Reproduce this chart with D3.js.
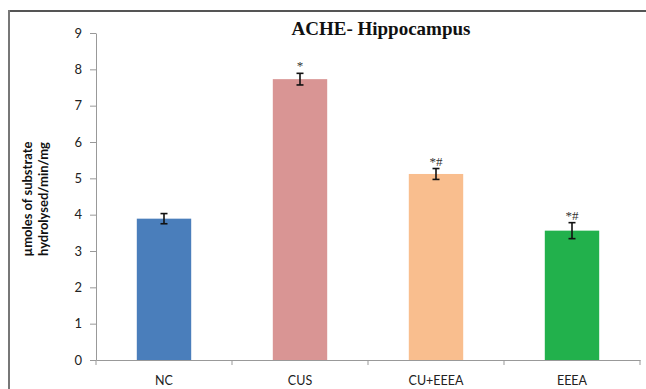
<!DOCTYPE html>
<html>
<head>
<meta charset="utf-8">
<script src="https://cdn.jsdelivr.net/npm/d3@7"></script>
<style>
  html, body { margin: 0; padding: 0; background: #fff; }
  svg { display: block; }
</style>
</head>
<body>
<svg id="chart" width="646" height="389"></svg>
<script>
// Acetylcholinesterase activity in hippocampus, by treatment group
const groups = ["NC", "CUS", "CU+EEEA", "EEEA"];
const means = [3.89, 7.73, 5.12, 3.56];
const errors = [0.14, 0.16, 0.15, 0.22];
const marks = ["", "*", "*#", "*#"];
const colors = ["#4a7ebb", "#d99594", "#f9be8e", "#22b14c"];
const yTicks = [0, 1, 2, 3, 4, 5, 6, 7, 8, 9];

const svg = d3.select("#chart");
const plot = { left: 96, right: 640, top: 33, bottom: 360 };

const x = d3.scaleBand().domain(groups).range([plot.left, plot.right]).padding(0);
const y = d3.scaleLinear().domain([0, 9]).range([plot.bottom, plot.top]);

// outer frame (top and left edges)
svg.append("line").attr("x1", 9).attr("x2", 646).attr("y1", 11).attr("y2", 11)
  .attr("stroke", "#555").attr("stroke-width", 2);
svg.append("line").attr("x1", 9).attr("x2", 9).attr("y1", 10).attr("y2", 389)
  .attr("stroke", "#777").attr("stroke-width", 2);

const uiFont = "Lato, 'Open Sans', sans-serif";
const serif = "'Liberation Serif', 'Times New Roman', serif";

// y axis
const yAxis = svg.append("g").attr("transform", `translate(${plot.left},0)`)
  .call(d3.axisLeft(y).tickValues(yTicks).tickSize(6).tickSizeOuter(0).tickPadding(8));
yAxis.select(".domain").attr("stroke", "#999");
yAxis.selectAll(".tick line").attr("stroke", "#999");
yAxis.selectAll(".tick text").attr("font-family", uiFont)
  .attr("font-size", 13).attr("fill", "#222");

// x axis
const xAxis = svg.append("g").attr("transform", `translate(0,${plot.bottom})`)
  .call(d3.axisBottom(x).tickSize(0).tickPadding(0));
xAxis.select(".domain").attr("stroke", "#999");
xAxis.selectAll(".tick text").attr("font-family", uiFont)
  .attr("font-size", 12.5).attr("fill", "#222").attr("dy", 0).attr("y", 25);
// category separators below the axis
const seps = groups.map(g => x(g)).concat([plot.right]);
svg.append("g").selectAll("line").data(seps).join("line")
  .attr("x1", d => d).attr("x2", d => d)
  .attr("y1", plot.bottom).attr("y2", plot.bottom + 5)
  .attr("stroke", "#999");

// bars
const barW = x.bandwidth() * 0.4;
const cx = g => x(g) + x.bandwidth() / 2;
svg.append("g").selectAll("rect").data(groups).join("rect")
  .attr("x", g => cx(g) - barW / 2)
  .attr("width", barW)
  .attr("y", (g, i) => y(means[i]))
  .attr("height", (g, i) => y(0) - y(means[i]))
  .attr("fill", (g, i) => colors[i]);

// error bars
const eb = svg.append("g").attr("stroke", "#111").attr("stroke-width", 1.6);
groups.forEach((g, i) => {
  const top = y(means[i] + errors[i]);
  const bot = y(means[i] - errors[i]);
  eb.append("line").attr("x1", cx(g)).attr("x2", cx(g)).attr("y1", top).attr("y2", bot);
  eb.append("line").attr("x1", cx(g) - 3.5).attr("x2", cx(g) + 3.5).attr("y1", top).attr("y2", top);
  eb.append("line").attr("x1", cx(g) - 3.5).attr("x2", cx(g) + 3.5).attr("y1", bot).attr("y2", bot);
});

// significance marks
svg.append("g").selectAll("text").data(groups).join("text")
  .attr("x", g => cx(g))
  .attr("y", (g, i) => y(means[i] + errors[i]) - 3)
  .attr("text-anchor", "middle")
  .attr("font-family", serif)
  .attr("font-size", 13).attr("fill", "#333")
  .text((g, i) => marks[i]);

// title
svg.append("text").attr("x", 381).attr("y", 35).attr("text-anchor", "middle")
  .attr("font-family", serif)
  .attr("font-weight", "bold").attr("font-size", 19).attr("fill", "#111")
  .text("ACHE- Hippocampus");

// y axis title (two lines)
const yt = svg.append("text")
  .attr("transform", "translate(32,199) rotate(-90)")
  .attr("text-anchor", "middle")
  .attr("font-family", uiFont)
  .attr("font-weight", "bold").attr("font-size", 13).attr("fill", "#111");
yt.append("tspan").attr("x", 0).attr("y", 0).text("µmoles of substrate");
yt.append("tspan").attr("x", 0).attr("y", 16).text("hydrolysed/min/mg");
</script>
</body>
</html>
